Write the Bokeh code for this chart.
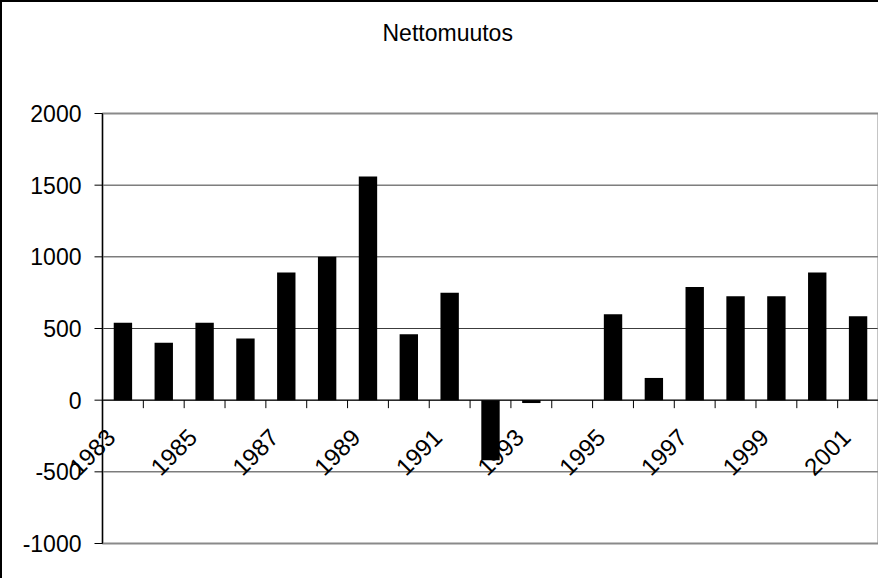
from bokeh.plotting import figure
from bokeh.models import Range1d, Label, LabelSet, ColumnDataSource
from bokeh.core.properties import value
from bokeh.embed import file_html
from bokeh.resources import INLINE

# ---- data ----
years = list(range(1983, 2002))
values = [540, 400, 540, 430, 890, 1000, 1560, 460, 750, -420, -20, 0,
          600, 155, 790, 725, 725, 890, 585]
label_years = [y for y in years if y % 2 == 1]
label_texts = [str(y) for y in label_years]
y_ticks = [-1000, -500, 0, 500, 1000, 1500, 2000]
y_tick_texts = [str(t) for t in y_ticks]
title_text = "Nettomuutos"

# ---- layout (pixels inside the canvas) ----
FONT = "Liberation Sans"
CANVAS_W, CANVAS_H = 878, 578
PA_LEFT, PA_RIGHT = 100, 876     # plot area edges
PA_TOP, PA_BOTTOM = 111, 541

x_lo = years[0] - 0.5
x_hi = years[-1] + 0.5
y_lo, y_hi = y_ticks[0], y_ticks[-1]
px_per_x = (PA_RIGHT - PA_LEFT) / (x_hi - x_lo)
px_per_y = (PA_BOTTOM - PA_TOP) / (y_hi - y_lo)
x_start = x_lo - PA_LEFT / px_per_x
x_end = x_start + CANVAS_W / px_per_x
y_top = y_hi + PA_TOP / px_per_y
y_bottom = y_top - CANVAS_H / px_per_y


def x_at(px):
    return x_start + px / px_per_x


def y_at(py):
    return y_top - py / px_per_y


p = figure(width=CANVAS_W, height=CANVAS_H, output_backend="svg",
           toolbar_location=None, x_axis_location=None, y_axis_location=None,
           x_range=Range1d(x_start, x_end), y_range=Range1d(y_bottom, y_top),
           min_border=0)
p.title.visible = False
p.styles = {"border-left": "2px solid black", "border-top": "2px solid black"}
p.outline_line_color = None
p.background_fill_color = "white"
p.border_fill_color = "white"
p.xgrid.visible = False
p.ygrid.visible = False

# gridlines
inner = y_ticks[1:-1]
p.segment(x0=[x_lo] * len(inner), x1=[x_hi] * len(inner), y0=inner, y1=inner,
          line_color="#3c3c3c", line_width=1)
# plot-area border
p.quad(left=[x_lo], right=[x_hi], bottom=[y_lo], top=[y_hi],
       fill_color=None, line_color="#8a8a8a", line_width=2)

# bars
src = ColumnDataSource(dict(x=years, top=values))
p.vbar(x="x", top="top", bottom=0, width=0.45, source=src,
       fill_color="black", line_color=None)

# category axis at zero with boundary ticks
TICK = 8
bounds = [y - 0.5 for y in years] + [x_hi]
p.segment(x0=[x_lo], x1=[x_hi], y0=[0], y1=[0], line_color="black", line_width=1)
p.segment(x0=bounds, x1=bounds, y0=[0] * len(bounds),
          y1=[-TICK / px_per_y] * len(bounds), line_color="black", line_width=1)

# value axis
p.segment(x0=[x_lo], x1=[x_lo], y0=[y_lo], y1=[y_hi], line_color="black",
          line_width=1.2)
p.segment(x0=[x_lo - TICK / px_per_x] * len(y_ticks), x1=[x_lo] * len(y_ticks),
          y0=y_ticks, y1=y_ticks, line_color="black", line_width=1)
ylab_src = ColumnDataSource(dict(x=[x_lo] * len(y_ticks), y=y_ticks,
                                 text=y_tick_texts))
p.add_layout(LabelSet(x="x", y="y", text="text", source=ylab_src,
                      text_align="right", text_baseline="middle",
                      x_offset=-21, text_font=value(FONT),
                      text_font_size=value("23px"), text_color="black"))

# rotated year labels
xlab_src = ColumnDataSource(dict(x=label_years, y=[0] * len(label_years),
                                 text=label_texts))
p.add_layout(LabelSet(x="x", y="y", text="text", source=xlab_src,
                      angle=45, angle_units="deg", text_align="right",
                      text_baseline="middle", x_offset=-12, y_offset=-33,
                      text_font=value(FONT), text_font_size=value("24px"),
                      text_color="black"))

# title
p.add_layout(Label(x=x_at(380), y=y_at(30), text=title_text,
                   text_align="left", text_baseline="alphabetic",
                   text_font=FONT, text_font_size="23px", text_color="black"))

open("out.html", "w").write(file_html(p, INLINE))
